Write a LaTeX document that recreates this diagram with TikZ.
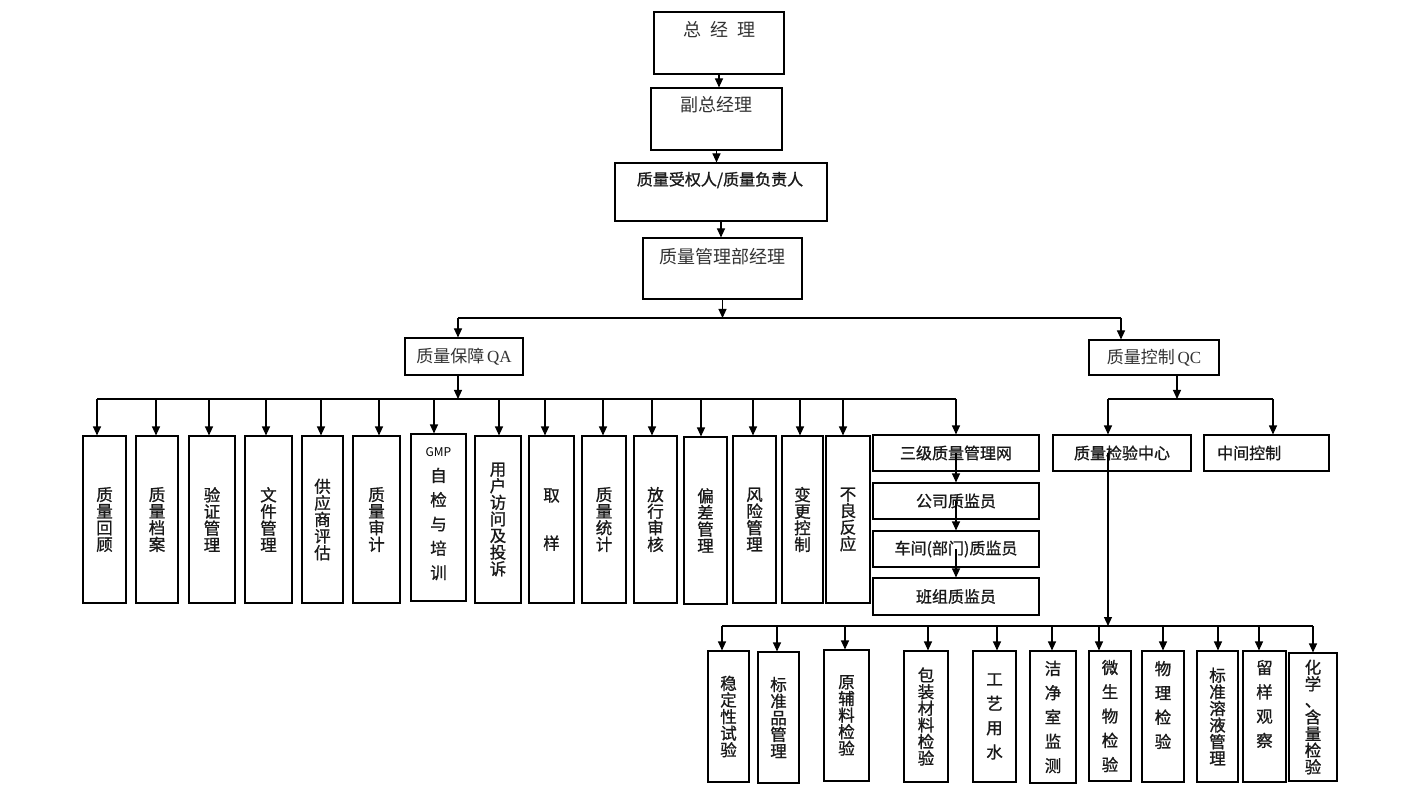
\documentclass[tikz,border=0pt]{standalone}
\usepackage{fontspec}
\setmainfont{Noto Sans CJK SC}
\newfontfamily\cjkb[FakeBold=1]{Noto Sans CJK SC}
\newfontfamily\serf{Liberation Serif}
\usetikzlibrary{arrows.meta}
\tikzset{
 box/.style={draw=black, line width=1.1pt, fill=white, inner sep=0pt, text=black!90},
 arr/.style={draw=black, line width=1.1pt, -{Triangle[length=9pt,width=8pt]}},
 ln/.style={draw=black, line width=1.1pt},
 vt/.style={font=\cjkb\fontsize{16.5}{16.6}\selectfont, align=center},
 vs/.style={font=\cjkb\fontsize{16.5}{24.3}\selectfont, align=center, inner sep=0pt, text=black!90},
 ht/.style={font=\cjkb\fontsize{16}{18}\selectfont, inner sep=0pt, text=black!90},
 toptxt/.style={font=\fontsize{18}{20}\selectfont, inner sep=0pt, text=black!80},
}
\newcommand\mybox[7][]{\node[box,#1,minimum width=#5pt-#3pt,minimum height=#6pt-#4pt] (#2) at ({(#3+#5)/2},{(#4+#6)/2}) {#7};}
\newcommand\drop[3]{\draw[arr] (#2,0|-#3) -- (#2,0|-#1.north);}
\begin{document}
\begin{tikzpicture}[x=1pt,y=-1pt]
\useasboundingbox[fill=white] (0,0) rectangle (1425,794);
% top chain
\mybox{t1}{654}{12}{784}{74}{}
\node[toptxt] (t1t) at (719,30) {总\hspace{9pt}经\hspace{9pt}理};
\mybox{t2}{651}{88}{782}{150}{}
\node[toptxt] (t2t) at (716,105) {副总经理};
\mybox{t3}{615}{163}{827}{221}{}
\node[ht] (t3t) at (720,180) {质量受权人/质量负责人};
\mybox{t4}{643}{238}{802}{299}{}
\node[toptxt] (t4t) at (722,257) {质量管理部经理};
% QA / QC
\mybox[font=\fontsize{17}{19}\selectfont,text=black!80]{qa}{405}{338}{523}{375}{质量保障\,{\serf QA}}
\mybox[font=\fontsize{17}{19}\selectfont,text=black!80]{qc}{1089}{340}{1219}{375}{质量控制\,{\serf QC}}
% QA children
\mybox[vt]{c1}{83}{436}{126}{603}{质\\量\\回\\顾}
\mybox[vt]{c2}{136}{436}{178}{603}{质\\量\\档\\案}
\mybox[vt]{c3}{189}{436}{235}{603}{验\\证\\管\\理}
\mybox[vt]{c4}{245}{436}{292}{603}{文\\件\\管\\理}
\mybox[vt]{c5}{302}{436}{343}{603}{供\\应\\商\\评\\估}
\mybox[vt]{c6}{353}{436}{400}{603}{质\\量\\审\\计}
\mybox{c7}{411}{434}{466}{601}{}
\node[font=\fontsize{12}{14}\selectfont, inner sep=0pt] (c7a) at (438.5,452) {GMP};
\node[vs] (c7b) at (438.5,524) {自\\检\\与\\培\\训};
\mybox[vt]{c8}{475}{436}{521}{603}{用\\户\\访\\问\\及\\投\\诉}
\mybox[font=\cjkb\fontsize{16.5}{48}\selectfont,align=center]{c9}{529}{436}{574}{603}{取\\样}
\mybox[vt]{c10}{582}{436}{626}{603}{质\\量\\统\\计}
\mybox[vt]{c11}{634}{436}{677}{603}{放\\行\\审\\核}
\mybox[vt]{c12}{684}{437}{727}{604}{偏\\差\\管\\理}
\mybox[vt]{c13}{733}{436}{776}{603}{风\\险\\管\\理}
\mybox[vt]{c14}{782}{436}{823}{603}{变\\更\\控\\制}
\mybox[vt]{c15}{826}{436}{870}{603}{不\\良\\反\\应}
% three-level network
\mybox[ht]{s1}{873}{435}{1039}{471}{三级质量管理网}
\mybox[ht]{s2}{873}{483}{1039}{519}{公司质监员}
\mybox[ht]{s3}{873}{531}{1039}{567}{车间(部门)质监员}
\mybox[ht]{s4}{873}{578}{1039}{615}{班组质监员}
% QC children
\mybox[ht]{k1}{1053}{435}{1191}{471}{质量检验中心}
\mybox{k2}{1204}{435}{1329}{471}{}
\node[ht,anchor=west] (k2t) at (1217,453) {中间控制};
% bottom children
\mybox[vt]{d1}{708}{651}{749}{782}{稳\\定\\性\\试\\验}
\mybox[vt]{d2}{758}{652}{799}{783}{标\\准\\品\\管\\理}
\mybox[vt]{d3}{824}{650}{869}{781}{原\\辅\\料\\检\\验}
\mybox[vt]{d4}{904}{651}{948}{782}{包\\装\\材\\料\\检\\验}
\mybox[vs]{d5}{973}{651}{1016}{782}{工\\艺\\用\\水}
\mybox[vs]{d6}{1030}{651}{1076}{783}{洁\\净\\室\\监\\测}
\mybox[vs]{d7}{1089}{651}{1131}{781}{微\\生\\物\\检\\验}
\mybox{d8}{1142}{651}{1184}{782}{}
\node[vs] (d8t) at (1163,705) {物\\理\\检\\验};
\mybox[vt]{d9}{1197}{651}{1238}{782}{标\\准\\溶\\液\\管\\理}
\mybox{d10}{1243}{651}{1286}{782}{}
\node[vs] (d10t) at (1264.5,704) {留\\样\\观\\察};
\mybox[vt]{d11}{1289}{653}{1337}{781}{化\\学\\、\\含\\量\\检\\验}
% connectors: top chain
\draw[arr] (t1.south) -- (t1.south|-t2.north);
\draw[arr] (t2.south) -- (t2.south|-t3.north);
\draw[arr] (t3.south) -- (t3.south|-t4.north);
\coordinate (btop) at (0,318);
\draw[arr] (t4.south) -- (t4.south|-btop);
\draw[ln] (458,0|-btop) -- (1121,0|-btop);
\drop{qa}{458}{btop}
\drop{qc}{1121}{btop}
% QA bus
\coordinate (bmid) at (0,399);
\draw[arr] (458,0|-qa.south) -- (458,0|-bmid);
\draw[ln] (97,0|-bmid) -- (956,0|-bmid);
\drop{c1}{97}{bmid}
\drop{c2}{156}{bmid}
\drop{c3}{209}{bmid}
\drop{c4}{266}{bmid}
\drop{c5}{321}{bmid}
\drop{c6}{379}{bmid}
\drop{c7}{434}{bmid}
\drop{c8}{499}{bmid}
\drop{c9}{545}{bmid}
\drop{c10}{603}{bmid}
\drop{c11}{652}{bmid}
\drop{c12}{701}{bmid}
\drop{c13}{753}{bmid}
\drop{c14}{800}{bmid}
\drop{c15}{843}{bmid}
\drop{s1}{956}{bmid}
\draw[arr] (s1.center) -- (s2.north);
\draw[arr] (s2.center) -- (s3.north);
\draw[arr] (s3.center) -- (s4.north);
% QC bus
\draw[arr] (1177,0|-qc.south) -- (1177,0|-bmid);
\draw[ln] (1108,0|-bmid) -- (1273,0|-bmid);
\drop{k1}{1108}{bmid}
\drop{k2}{1273}{bmid}
% bottom bus
\coordinate (bbot) at (0,626);
\draw[arr] (1108,0|-k1.center) -- (1108,0|-bbot);
\draw[ln] (722,0|-bbot) -- (1313,0|-bbot);
\drop{d1}{722}{bbot}
\drop{d2}{777}{bbot}
\drop{d3}{845}{bbot}
\drop{d4}{928}{bbot}
\drop{d5}{997}{bbot}
\drop{d6}{1052}{bbot}
\drop{d7}{1099}{bbot}
\drop{d8}{1163}{bbot}
\drop{d9}{1218}{bbot}
\drop{d10}{1259}{bbot}
\drop{d11}{1313}{bbot}
\end{tikzpicture}
\end{document}
